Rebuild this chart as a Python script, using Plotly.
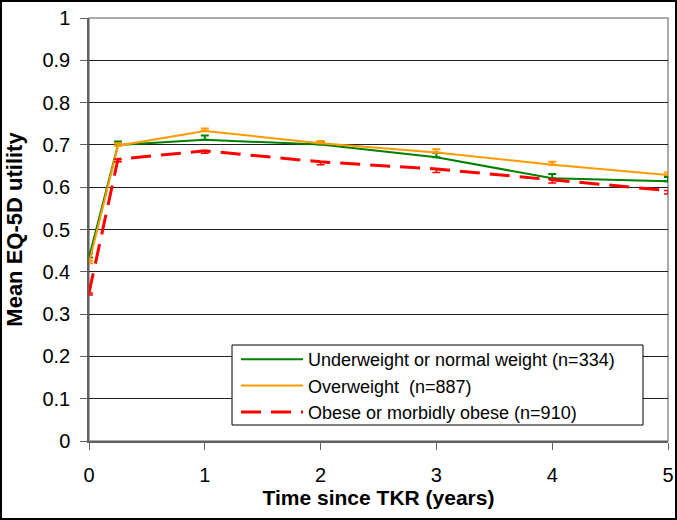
import plotly.graph_objects as go

years = [0, 0.25, 1, 2, 3, 4, 5]
under_normal = [0.434, 0.700, 0.712, 0.701, 0.671, 0.621, 0.614]
overweight = [0.420, 0.698, 0.733, 0.704, 0.682, 0.653, 0.629]
obese = [0.350, 0.666, 0.686, 0.660, 0.643, 0.618, 0.592]
err_under = [0.010, 0.008, 0.010, 0.006, 0.010, 0.010, 0.010]
err_over = [0.006, 0.006, 0.006, 0.005, 0.008, 0.007, 0.006]
err_obese = [0.005, 0.006, 0.006, 0.007, 0.008, 0.008, 0.008]
names = ["Underweight or normal weight (n=334)", "Overweight  (n=887)",
         "Obese or morbidly obese (n=910)"]

W, H = 677, 520
L, R, T, B = 89, 9, 18, 79
pw, ph = W - L - R, H - T - B


def px_x(p):
    return (p - L) / pw


def px_y(p):
    return (H - B - p) / ph


fig = go.Figure()
fig.add_trace(go.Scatter(
    x=years, y=under_normal, mode="lines", name=names[0],
    line=dict(color="#008000", width=2),
    error_y=dict(type="data", symmetric=False, array=err_under,
                 arrayminus=[0] * len(years), color="#008000", thickness=2, width=4)))
fig.add_trace(go.Scatter(
    x=years, y=overweight, mode="lines", name=names[1],
    line=dict(color="#FF9900", width=2),
    error_y=dict(type="data", symmetric=False, array=err_over,
                 arrayminus=[0] * len(years), color="#FF9900", thickness=2, width=4)))
fig.add_trace(go.Scatter(
    x=years, y=obese, mode="lines", name=names[2],
    line=dict(color="#FF0000", width=3, dash="20px,10px"),
    error_y=dict(type="data", symmetric=False, array=[0] * len(years),
                 arrayminus=err_obese, color="#FF0000", thickness=1.5, width=4)))

# outer frame of the picture
fig.add_shape(type="rect", xref="paper", yref="paper",
              x0=px_x(1), x1=px_x(W - 1), y0=px_y(H - 1), y1=px_y(1),
              line=dict(color="black", width=2), fillcolor="rgba(0,0,0,0)", layer="above")
# plot area border (gray)
fig.add_shape(type="rect", xref="paper", yref="paper", x0=0, x1=1, y0=0, y1=1,
              line=dict(color="#909090", width=1.5), fillcolor="rgba(0,0,0,0)", layer="below")
# legend box
fig.add_shape(type="rect", xref="paper", yref="paper",
              x0=px_x(232), x1=px_x(643), y0=px_y(425), y1=px_y(345),
              line=dict(color="black", width=1), fillcolor="white", layer="above")

fig.update_layout(
    width=W, height=H,
    margin=dict(l=L, r=R, t=T, b=B, autoexpand=False),
    paper_bgcolor="white", plot_bgcolor="white",
    font=dict(family="Liberation Sans, Arial, sans-serif", color="black"),
    showlegend=True,
    legend=dict(x=px_x(236), y=px_y(341), xanchor="left", yanchor="top",
                borderwidth=0, bgcolor="rgba(0,0,0,0)",
                font=dict(size=18), tracegroupgap=0, itemwidth=62),
    xaxis=dict(range=[0, 5], tickvals=[0, 1, 2, 3, 4, 5], showgrid=False, automargin=False,
               showline=True, linecolor="#606060", linewidth=1.5,
               ticks="outside", ticklen=7, tickcolor="#606060", ticklabelstandoff=8,
               tickfont=dict(size=20), zeroline=False,
               title=dict(text="<b>Time since TKR (years)</b>", font=dict(size=21), standoff=6)),
    yaxis=dict(range=[0, 1], tickvals=[i / 10 for i in range(11)], automargin=False,
               ticktext=["0", "0.1", "0.2", "0.3", "0.4", "0.5", "0.6", "0.7", "0.8", "0.9", "1"],
               showgrid=True, gridcolor="#202020", gridwidth=1,
               showline=True, linecolor="#606060", linewidth=1.5,
               ticks="outside", ticklen=7, tickcolor="#606060", ticklabelstandoff=6,
               tickfont=dict(size=20), zeroline=False,
               title=dict(text="<b>Mean EQ-5D utility</b>", font=dict(size=22), standoff=14)),
)

fig.write_html("out.html", config={"displayModeBar": False},
               post_script="document.body.style.margin='0px';document.body.style.overflow='hidden';")
